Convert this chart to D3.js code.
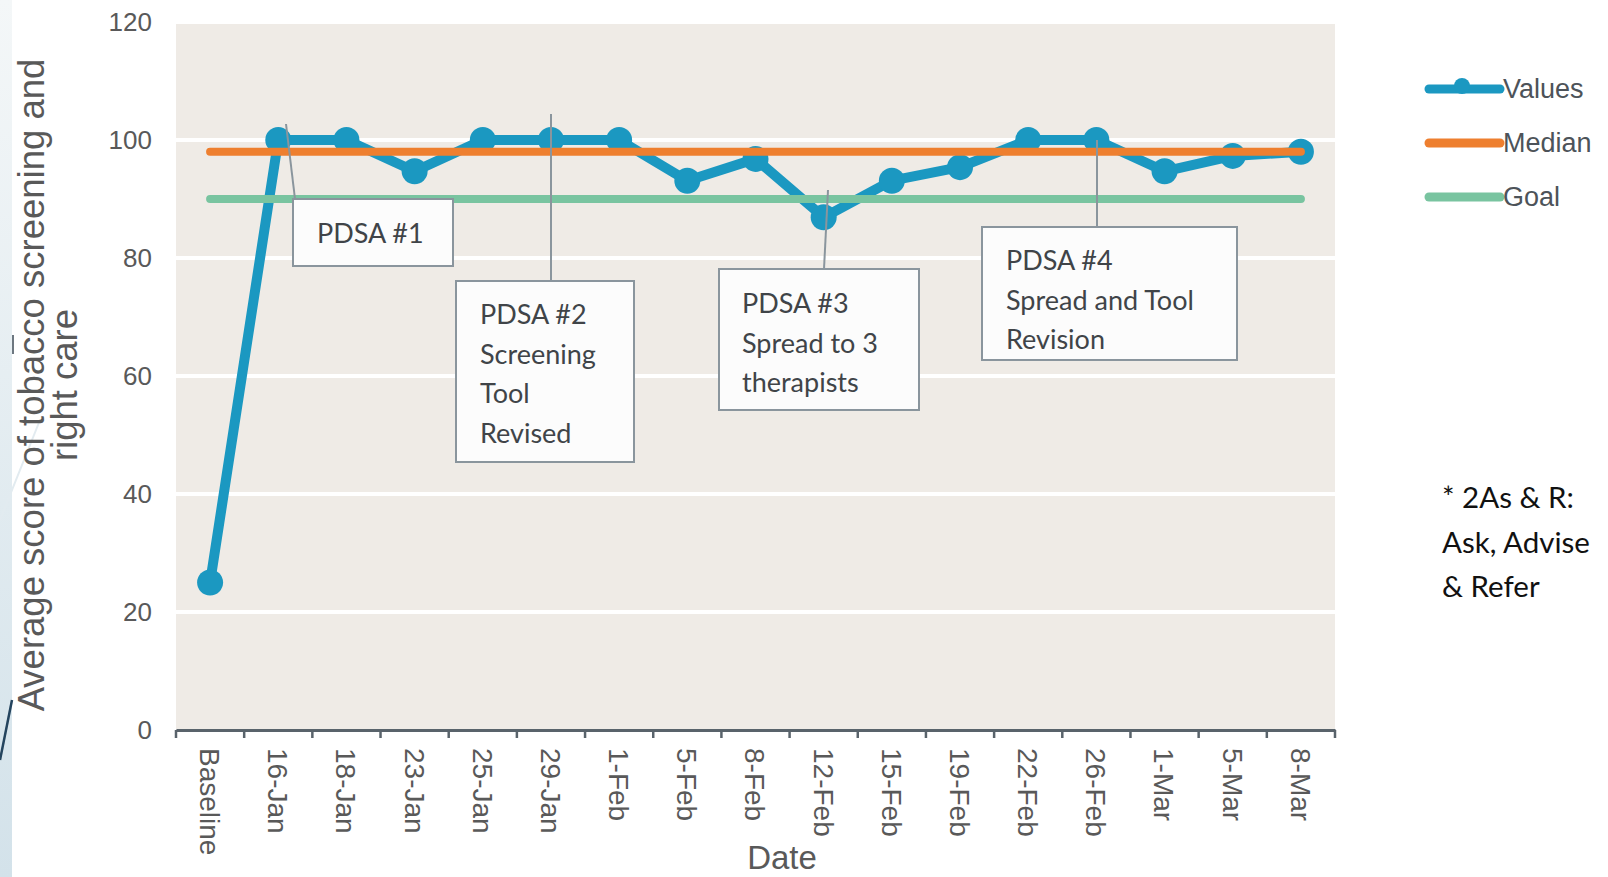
<!DOCTYPE html>
<html>
<head>
<meta charset="utf-8">
<script src="https://cdn.jsdelivr.net/npm/d3@7"></script>
<style>
  html, body { margin: 0; padding: 0; background: #ffffff; }
  svg { display: block; }
</style>
</head>
<body>
<svg id="chart" width="1608" height="877"></svg>
<script>
// data
const dates = ["Baseline", "16-Jan", "18-Jan", "23-Jan", "25-Jan", "29-Jan", "1-Feb", "5-Feb",
  "8-Feb", "12-Feb", "15-Feb", "19-Feb", "22-Feb", "26-Feb", "1-Mar", "5-Mar", "8-Mar"];
const values = [25, 100, 100, 94.7, 100, 100, 100, 93.1, 96.8, 86.9, 93.1, 95.4, 100, 100, 94.7, 97.3, 98];
const median = 98;
const goal = 90;
const yTicks = [0, 20, 40, 60, 80, 100, 120];
const legendNames = ["Values", "Median", "Goal"];

// PDSA callouts: which date they point at, and their text lines
const pdsaDates = ["16-Jan", "29-Jan", "12-Feb", "26-Feb"];
const pdsaText = [
  ["PDSA #1"],
  ["PDSA #2", "Screening", "Tool", "Revised"],
  ["PDSA #3", "Spread to 3", "therapists"],
  ["PDSA #4", "Spread and Tool", "Revision"],
];
const noteLines = ["* 2As & R:", "Ask, Advise", "& Refer"];

const svg = d3.select("#chart");
const colors = { Values: "#1b98c1", Median: "#ee7f2f", Goal: "#79c4a0" };
const axisFont = "'Liberation Sans', Arial, sans-serif";
const boxFont = "Lato, 'Open Sans', sans-serif";

// slide decoration at the left edge
const defs = svg.append("defs");
const grad = defs.append("linearGradient").attr("id", "edge").attr("x1", 0).attr("y1", 0).attr("x2", 0).attr("y2", 1);
grad.append("stop").attr("offset", "0%").attr("stop-color", "#f4f7f8");
grad.append("stop").attr("offset", "100%").attr("stop-color", "#d3e2ea");
svg.append("rect").attr("x", 0).attr("y", 0).attr("width", 12).attr("height", 877).attr("fill", "url(#edge)");
svg.append("line").attr("x1", 12).attr("y1", 700).attr("x2", 0).attr("y2", 760)
  .attr("stroke", "#24445e").attr("stroke-width", 2.5);
svg.append("line").attr("x1", 13).attr("y1", 335).attr("x2", 13).attr("y2", 354)
  .attr("stroke", "#6d7780").attr("stroke-width", 2);
svg.append("line").attr("x1", 40).attr("y1", 420).attr("x2", 0).attr("y2", 520)
  .attr("stroke", "#e2ebf0").attr("stroke-width", 2);

// scales
const x = d3.scaleBand().domain(dates).range([176, 1335]).padding(0);
const y = d3.scaleLinear().domain([0, 120]).range([730, 22]);
const cx = d => x(d) + x.bandwidth() / 2;

// plot area background and gridlines
svg.append("rect")
  .attr("x", 176).attr("y", y(120) + 2)
  .attr("width", 1335 - 176).attr("height", y(0) - y(120) - 2)
  .attr("fill", "#efebe6");

svg.append("g")
  .selectAll("line")
  .data(yTicks.filter(t => t > 0 && t < 120))
  .join("line")
  .attr("x1", 176).attr("x2", 1335)
  .attr("y1", d => y(d)).attr("y2", d => y(d))
  .attr("stroke", "#ffffff").attr("stroke-width", 4);

// y axis labels (no axis line)
const yAxis = svg.append("g")
  .attr("transform", "translate(176,0)")
  .call(d3.axisLeft(y).tickValues(yTicks).tickSize(0).tickPadding(24));
yAxis.select(".domain").remove();
yAxis.selectAll("text")
  .attr("font-family", axisFont).attr("font-size", 26).attr("fill", "#595959");

// x axis with ticks at band edges
const xAxis = svg.append("g")
  .attr("transform", `translate(0,${y(0)})`)
  .call(d3.axisBottom(x).tickSize(0).tickSizeOuter(0));
xAxis.select(".domain").attr("stroke", "#59636b").attr("stroke-width", 3);
xAxis.selectAll("text")
  .attr("font-family", axisFont).attr("font-size", 28).attr("fill", "#595959")
  .attr("text-anchor", "start")
  .attr("transform", "rotate(90)")
  .attr("x", 18).attr("y", 0).attr("dy", "0.36em");

svg.append("g")
  .selectAll("line")
  .data(dates.map(d => x(d)).concat([x.range()[1]]))
  .join("line")
  .attr("x1", d => d).attr("x2", d => d)
  .attr("y1", y(0)).attr("y2", y(0) + 8)
  .attr("stroke", "#59636b").attr("stroke-width", 2.5);

// axis titles
svg.append("text")
  .attr("x", 782).attr("y", 869)
  .attr("text-anchor", "middle")
  .attr("font-family", axisFont).attr("font-size", 33).attr("fill", "#595959")
  .text("Date");

const yTitle = svg.append("text")
  .attr("transform", "translate(44,385) rotate(-90)")
  .attr("text-anchor", "middle")
  .attr("font-family", axisFont).attr("font-size", 36.5).attr("fill", "#595959");
yTitle.append("tspan").attr("x", 0).attr("dy", 0).text("Average score of tobacco screening and");
yTitle.append("tspan").attr("x", 0).attr("dy", 33).text("right care");

// values series
const line = d3.line().x((d, i) => cx(dates[i])).y(d => y(d));
svg.append("path")
  .datum(values)
  .attr("d", line)
  .attr("fill", "none")
  .attr("stroke", colors.Values)
  .attr("stroke-width", 10)
  .attr("stroke-linejoin", "round");
svg.append("g")
  .selectAll("circle")
  .data(values)
  .join("circle")
  .attr("cx", (d, i) => cx(dates[i]))
  .attr("cy", d => y(d))
  .attr("r", 13)
  .attr("fill", colors.Values);

// median and goal lines on top
const first = cx(dates[0]);
const last = cx(dates[dates.length - 1]);
[["Median", median], ["Goal", goal]].forEach(([name, v]) => {
  svg.append("line")
    .attr("x1", first).attr("x2", last)
    .attr("y1", y(v)).attr("y2", y(v))
    .attr("stroke", colors[name])
    .attr("stroke-width", 8)
    .attr("stroke-linecap", "round");
});

// PDSA callouts (box layout in pixels)
const boxes = [
  { x: 293, y: 199, w: 160, h: 67, top: [286, 124], bottom: [295, 199], tx: 317, ty: 243 },
  { x: 456, y: 281, w: 178, h: 181, top: [551, 114], bottom: [551, 287], tx: 480, ty: 324 },
  { x: 719, y: 269, w: 200, h: 141, top: [828, 190], bottom: [824, 269], tx: 742, ty: 313 },
  { x: 982, y: 227, w: 255, h: 133, top: [1097, 140], bottom: [1097, 227], tx: 1006, ty: 270 },
];
const callouts = svg.append("g");
pdsaDates.forEach((d, i) => {
  const b = boxes[i];
  callouts.append("line")
    .attr("x1", b.top[0]).attr("y1", b.top[1])
    .attr("x2", b.bottom[0]).attr("y2", b.bottom[1])
    .attr("stroke", "#8a959d").attr("stroke-width", 2);
  callouts.append("rect")
    .attr("x", b.x).attr("y", b.y).attr("width", b.w).attr("height", b.h)
    .attr("fill", "#fcfcfc")
    .attr("stroke", "#8a959d").attr("stroke-width", 2);
  const t = callouts.append("text")
    .attr("font-family", boxFont).attr("font-size", 27).attr("fill", "#404448");
  pdsaText[i].forEach((s, j) => {
    t.append("tspan").attr("x", b.tx).attr("y", b.ty + j * 39.5).text(s);
  });
});

// legend
const legend = svg.append("g");
legendNames.forEach((name, i) => {
  const ly = 89 + i * 54;
  legend.append("line")
    .attr("x1", 1429).attr("x2", 1500)
    .attr("y1", ly).attr("y2", ly)
    .attr("stroke", colors[name]).attr("stroke-width", 9)
    .attr("stroke-linecap", "round");
  if (name === "Values") {
    legend.append("circle").attr("cx", 1462).attr("cy", ly - 3).attr("r", 8).attr("fill", colors[name]);
  }
  legend.append("text")
    .attr("x", 1503).attr("y", ly + 9)
    .attr("font-family", axisFont).attr("font-size", 27).attr("fill", "#4d5359")
    .text(name);
});

// side note
const note = svg.append("text")
  .attr("font-family", boxFont).attr("font-size", 29.5).attr("fill", "#111111");
noteLines.forEach((s, j) => {
  note.append("tspan").attr("x", 1442).attr("y", 508 + j * 44.5).text(s);
});
</script>
</body>
</html>
